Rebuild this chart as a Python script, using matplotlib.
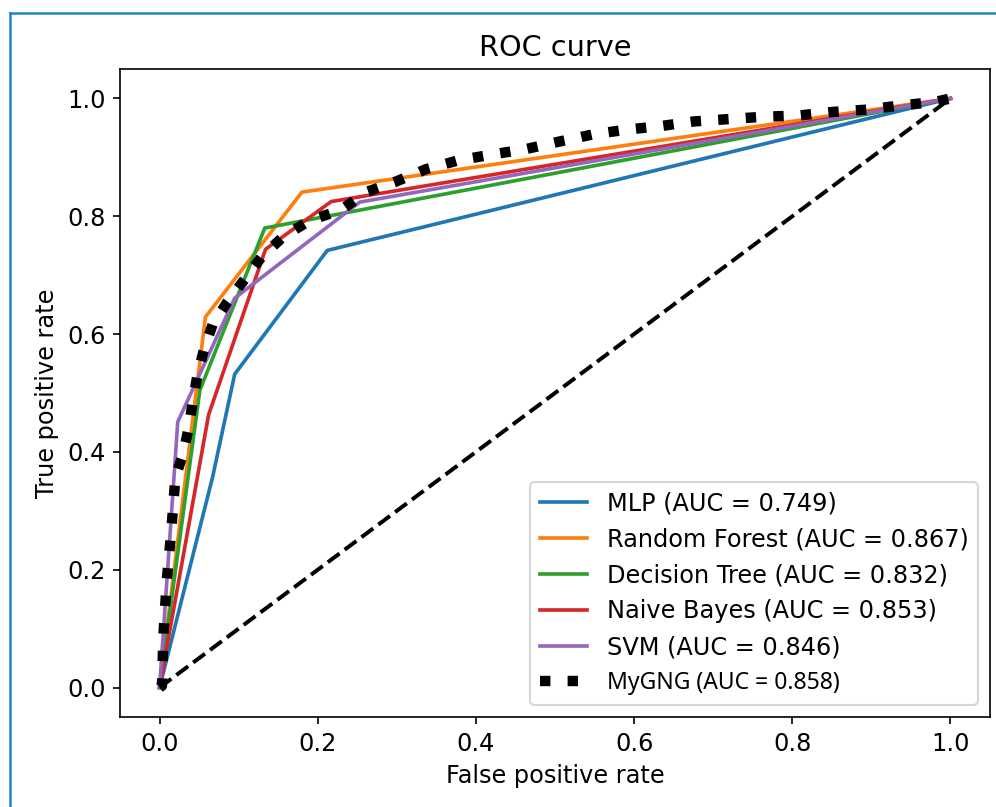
import matplotlib
matplotlib.use('Agg')
import matplotlib.pyplot as plt
from matplotlib.lines import Line2D

# ROC points
mlp_fpr = [0.0, 0.067, 0.095, 0.212, 1.0]
mlp_tpr = [0.0, 0.357, 0.532, 0.742, 1.0]

rf_fpr = [0.0, 0.058, 0.180, 1.0]
rf_tpr = [0.0, 0.629, 0.841, 1.0]

dt_fpr = [0.0, 0.051, 0.133, 1.0]
dt_tpr = [0.0, 0.505, 0.780, 1.0]

nb_fpr = [0.0, 0.062, 0.134, 0.217, 1.0]
nb_tpr = [0.0, 0.463, 0.744, 0.825, 1.0]

svm_fpr = [0.0, 0.023, 0.095, 0.253, 1.0]
svm_tpr = [0.0, 0.451, 0.661, 0.824, 1.0]

gng_fpr = [0.0, 0.003, 0.005, 0.009, 0.015, 0.020, 0.030, 0.037, 0.042, 0.048,
           0.056, 0.067, 0.086, 0.107, 0.129, 0.156, 0.190, 0.230, 0.261, 0.299,
           0.337, 0.378, 0.421, 0.463, 0.506, 0.548, 0.590, 0.633, 0.676, 0.720,
           0.764, 0.808, 0.850, 0.894, 0.936, 0.980, 1.0]
gng_tpr = [0.0, 0.003, 0.092, 0.180, 0.269, 0.357, 0.398, 0.442, 0.486, 0.531,
           0.573, 0.616, 0.655, 0.692, 0.731, 0.765, 0.793, 0.811, 0.841, 0.859,
           0.880, 0.895, 0.905, 0.914, 0.927, 0.939, 0.947, 0.953, 0.961, 0.965,
           0.969, 0.971, 0.977, 0.981, 0.988, 0.994, 1.0]

labels = ['MLP (AUC = 0.749)', 'Random Forest (AUC = 0.867)',
          'Decision Tree (AUC = 0.832)', 'Naive Bayes (AUC = 0.853)',
          'SVM (AUC = 0.846)']
gng_label = 'MyGNG (AUC = 0.858)'

plt.rcParams['font.size'] = 11.5
plt.rcParams['axes.titlesize'] = 13.8
plt.rcParams['lines.linewidth'] = 1.75

fig = plt.figure(figsize=(6.64, 5.38), dpi=150)
ax = fig.add_axes([0.1205, 0.1115, 0.8735, 0.803])

ax.plot([0, 1], [0, 1], 'k--', linewidth=1.9)
curves = [(mlp_fpr, mlp_tpr), (rf_fpr, rf_tpr), (dt_fpr, dt_tpr),
          (nb_fpr, nb_tpr), (svm_fpr, svm_tpr)]
for (fpr, tpr), label in zip(curves, labels):
  ax.plot(fpr, tpr, label=label)
ax.plot(gng_fpr, gng_tpr, color='black', linestyle=':', linewidth=5, label=gng_label)

ax.set_xlabel('False positive rate')
ax.set_ylabel('True positive rate')
ax.set_title('ROC curve')

legend = ax.legend(loc='lower right')
legend.get_texts()[-1].set_fontfamily('Noto Sans')
legend.get_texts()[-1].set_fontsize(11)

# blue frame of the screenshot
fig.add_artist(Line2D([0.0105, 0.0105], [0, 0.9835], color='#1b88c6', linewidth=1.2))
fig.add_artist(Line2D([0.0105, 1.0], [0.9835, 0.9835], color='#1b88c6', linewidth=1.2))

fig.savefig('out.png', dpi=150)
